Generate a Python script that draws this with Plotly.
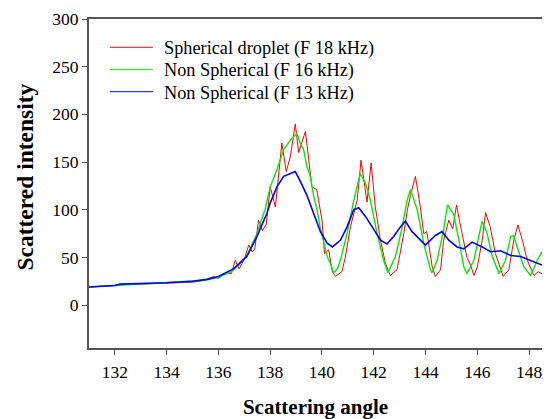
import plotly.graph_objects as go

# values (angle in degrees, intensity)
red_x = [131.0, 132.0, 132.3, 133.0, 134.0, 135.0, 135.5, 135.8, 136.0, 136.3,
         136.5, 136.65, 136.8, 137.0, 137.17, 137.3, 137.4, 137.55, 137.7, 137.85,
         138.0, 138.2, 138.45, 138.62, 138.78, 138.97, 139.1, 139.36, 139.5, 139.61,
         139.8, 140.0, 140.1, 140.26, 140.4, 140.52, 140.77, 140.9, 141.1, 141.36,
         141.51, 141.6, 141.74, 141.9, 142.06, 142.26, 142.45, 142.64, 142.9, 143.16,
         143.3, 143.42, 143.61, 143.8, 143.93, 144.05, 144.26, 144.38, 144.58, 144.7,
         144.9, 145.05, 145.2, 145.3, 145.48, 145.6, 145.74, 145.87, 146.0, 146.19,
         146.32, 146.5, 146.7, 146.9, 147.0, 147.22, 147.41, 147.57, 147.74, 147.93,
         148.19, 148.35, 148.5]
red_y = [19, 20.5, 22, 22, 23, 24, 26, 30, 28, 34,
         33, 47, 38, 48, 63, 56, 58, 89, 78, 85,
         124, 103, 170, 140, 156, 190, 160, 182, 150, 124,
         121, 89, 54, 58, 35, 30, 35, 50, 82, 110,
         152, 135, 108, 149, 103, 68, 44, 31, 37, 75,
         100, 115, 135, 103, 75, 77, 40, 30, 37, 68,
         89, 80, 105, 90, 65, 50, 42, 31, 40, 68,
         97, 82, 54, 37, 30, 37, 68, 84, 68, 47,
         31, 35, 33]

green_x = [131.0, 132.0, 133.0, 134.0, 135.0, 135.5, 136.0, 136.5, 136.8, 137.1,
           137.49, 137.8, 138.0, 138.26, 138.52, 138.78, 139.03, 139.16, 139.29, 139.42,
           139.55, 139.68, 139.81, 139.94, 140.07, 140.2, 140.32, 140.45, 140.6, 140.71,
           140.97, 141.23, 141.48, 141.68, 141.87, 142.13, 142.38, 142.55, 142.84, 143.1,
           143.29, 143.42, 143.68, 143.93, 144.19, 144.25, 144.45, 144.7, 144.85, 145.09,
           145.29, 145.48, 145.6, 145.87, 146.06, 146.19, 146.38, 146.58, 146.84, 147.09,
           147.29, 147.4, 147.54, 147.8, 148.06, 148.32, 148.5]
green_y = [19, 20.5, 22, 23, 24.5, 26, 29, 35, 42, 52,
           75, 100, 124, 142, 163, 173, 180, 170, 163, 145,
           135, 114, 100, 80, 66, 51, 44, 34, 38, 47,
           75, 110, 138, 128, 110, 75, 47, 34, 51, 82,
           110, 121, 100, 65, 37, 34, 47, 79, 105, 95,
           68, 40, 33, 47, 72, 88, 75, 51, 33, 47,
           72, 73, 61, 40, 31, 47, 56]

blue_x = [131.0, 132.0, 132.2, 133.0, 134.0, 135.0, 135.55, 136.0, 136.58, 137.1,
          137.49, 137.87, 138.0, 138.26, 138.52, 138.78, 138.97, 139.16, 139.42, 139.68,
          139.94, 140.2, 140.4, 140.58, 140.71, 140.97, 141.23, 141.42, 141.68, 141.94,
          142.26, 142.51, 142.77, 143.03, 143.22, 143.48, 143.74, 144.0, 144.38, 144.64,
          144.9, 145.22, 145.48, 145.8, 146.19, 146.51, 146.9, 147.29, 147.67, 148.06,
          148.45, 148.5]
blue_y = [19, 20.5, 22, 22.5, 23.5, 25, 27, 30, 38, 51,
          72, 96, 107, 124, 135, 138, 140, 130, 115, 96,
          77, 65, 61, 65, 68, 82, 100, 102, 93, 82,
          68, 64, 72, 82, 88, 77, 70, 63, 73, 77,
          68, 61, 59, 66, 61, 56, 57, 52, 51, 47,
          43, 42]

series_names = ["Spherical droplet (F 18 kHz)",
                "Non Spherical (F 16 kHz)",
                "Non Spherical (F 13 kHz)"]
series_colors = ['#ff0000', '#00ee00', '#0000ff']
series_widths = [1, 1.4, 1.6]

x_ticks = [132, 134, 136, 138, 140, 142, 144, 146, 148]
y_ticks = [0, 50, 100, 150, 200, 250, 300]

FONT = "Liberation Serif, Times New Roman, serif"

fig = go.Figure()
for xs, ys, name, col, w in zip([red_x, green_x, blue_x], [red_y, green_y, blue_y],
                                series_names, series_colors, series_widths):
    fig.add_trace(go.Scatter(x=xs, y=ys, mode='lines', name=name,
                             line=dict(color=col, width=w)))

# legend drawn by hand so the rows sit as tight as in the original
legend_rows = [0.91, 0.842, 0.775]
for name, col, ry in zip(series_names, series_colors, legend_rows):
    fig.add_shape(type='line', xref='paper', yref='paper',
                  x0=0.046, x1=0.141, y0=ry + 0.004, y1=ry + 0.004,
                  line=dict(color=col, width=1))
    fig.add_annotation(xref='paper', yref='paper', x=0.162, y=ry,
                       xanchor='left', yanchor='middle', showarrow=False,
                       text=name, font=dict(size=18.3))

# y title as an annotation: it sits a little above the middle of the axis
fig.add_annotation(xref='paper', yref='paper', x=-0.1413, y=0.521,
                   xanchor='center', yanchor='middle', showarrow=False,
                   textangle=-90, text='<b>Scattered intensity</b>',
                   font=dict(size=23.5))

# the page body adds an 8px margin, so the figure is 8px smaller than the window
fig.update_layout(
    width=542, height=411,
    margin=dict(l=81, r=8, t=11, b=71),
    paper_bgcolor='white', plot_bgcolor='white',
    font=dict(family=FONT, size=17.5, color='black'),
    showlegend=False,
    xaxis=dict(range=[131, 148.5], tickvals=x_ticks, ticks='outside', ticklen=5,
               ticklabelstandoff=2,
               showgrid=False, zeroline=False, showline=True, mirror=True,
               linecolor='#555555', linewidth=2, tickcolor='#555555', automargin=False,
               title=dict(text='<b>Scattering angle</b>', font=dict(size=21), standoff=22)),
    yaxis=dict(range=[-45, 300], tickvals=y_ticks, ticks='outside', ticklen=5,
               automargin=False,
               showgrid=False, zeroline=False, showline=True, mirror=True,
               linecolor='#555555', linewidth=2, tickcolor='#555555'),
)

fig.write_html("out.html")
